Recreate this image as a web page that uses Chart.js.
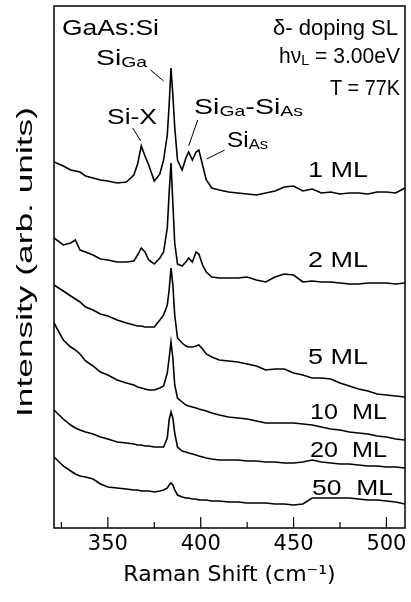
<!DOCTYPE html>
<html>
<head>
<meta charset="utf-8">
<script src="https://cdn.jsdelivr.net/npm/chart.js@4.4.1/dist/chart.umd.min.js"></script>
<style>
  html, body { margin: 0; padding: 0; background: #fff; }
</style>
</head>
<body>
<canvas id="chart" width="411" height="602"></canvas>
<script>
// Raman shift grid (cm-1), shared by every spectrum
const shift = [
  321, 326, 330, 332.5, 335, 338, 342, 346, 350, 355,
  360, 364, 366, 368, 370, 372, 375, 378, 380, 382,
  383, 384, 385, 386, 387.5, 390, 392, 393.5, 395.5, 397.5,
  399, 401, 403, 406, 410, 415, 420, 425, 430, 435,
  440, 445, 450, 455, 460, 465, 470, 475, 480, 485,
  490, 495, 500, 505, 510,
];

// intensities (arb. units, spectra already offset vertically)
const ml1 = [
  366, 362, 358, 357, 356, 352, 350, 348, 347, 345,
  346, 353, 364, 382, 372, 363, 347, 354, 368, 393,
  423, 460, 433, 401, 368, 358, 370, 376, 368, 376,
  378, 363, 348, 340, 338, 336, 335, 334, 333, 335,
  337, 341, 342, 337, 339, 335, 336, 334, 335, 335,
  334, 336, 336, 335, 340,
];
const ml2 = [
  290, 283, 285, 288, 278, 276, 273, 269, 268, 266,
  266, 267, 273, 280, 276, 268, 264, 270, 276, 300,
  335, 365, 325, 285, 264, 262, 266, 270, 266, 276,
  274, 263, 256, 251, 250, 250, 250, 251, 248, 246,
  251, 254, 253, 246, 247, 246, 246, 245, 244, 244,
  245, 245, 245, 244, 245,
];
const ml5 = [
  243, 237, 232, 229, 226, 221, 218, 214, 212, 208,
  205, 203, 202, 202, 201, 201, 201, 208, 213, 223,
  238, 260, 243, 213, 190, 185, 182, 181, 181, 182,
  183, 179, 174, 171, 168, 167, 166, 164, 162, 158,
  159, 159, 155, 153, 150, 150, 149, 145, 142, 139,
  137, 134, 133, 132, 131,
];
const ml10 = [
  205, 188, 181, 178, 174, 167, 162, 156, 153, 148,
  145, 143, 141, 140, 139, 138, 138, 140, 142, 155,
  170, 186, 170, 143, 130, 126, 123, 122, 121, 120,
  119, 118, 117, 115, 113, 111, 110, 109, 107, 105,
  105, 105, 105, 104, 103, 101, 99, 98, 96, 95,
  94, 92, 91, 89, 88,
];
const ml20 = [
  118, 109, 103, 100, 98, 96, 94, 91, 89, 86,
  85, 84, 83, 83, 82, 82, 81, 81, 81, 90,
  108, 116, 110, 95, 81, 77, 76, 75, 74, 73,
  72, 71, 70, 69, 68, 68, 68, 67, 67, 66,
  66, 65, 65, 66, 68, 66, 65, 64, 64, 63,
  62, 62, 61, 61, 60,
];
const ml50 = [
  71, 62, 57, 54, 52, 51, 49, 44, 41, 40,
  39, 38, 38, 37, 37, 37, 36, 37, 38, 40,
  43, 45, 43, 38, 33, 31, 30, 30, 29, 29,
  28, 28, 28, 27, 27, 26, 26, 25, 25, 25,
  24, 24, 23, 24, 30, 30, 30, 30, 30, 29,
  28, 28, 27, 26, 24,
];

const seriesNames = ['1 ML', '2 ML', '5 ML', '10  ML', '20  ML', '50  ML'];
const seriesValues = [ml1, ml2, ml5, ml10, ml20, ml50];
const xTickValues = [350, 400, 450, 500];
const xMinorTicks = [325, 375, 425, 475];
const yTitle = 'Intensity (arb. units)';

// text labels: "_{..}" marks a subscript; x/y = left edge and baseline in px, w = drawn width
const notes = [
  { text: 'GaAs:Si', x: 62, y: 35, w: 97 },
  { text: 'δ- doping SL', x: 273, y: 35, w: 125 },
  { text: 'hν_{L} = 3.00eV', x: 279, y: 63, w: 121 },
  { text: 'T = 77K', x: 330, y: 95, w: 70 },
  { text: 'Si_{Ga}', x: 96, y: 65, w: 51 },
  { text: 'Si-X', x: 107, y: 124, w: 50 },
  { text: 'Si_{Ga}-Si_{As}', x: 194, y: 114, w: 109 },
  { text: 'Si_{As}', x: 227, y: 147, w: 41 },
  { text: seriesNames[0], x: 308, y: 177, w: 60 },
  { text: seriesNames[1], x: 308, y: 267, w: 60 },
  { text: seriesNames[2], x: 308, y: 364, w: 60 },
  { text: seriesNames[3], x: 310, y: 419, w: 77 },
  { text: seriesNames[4], x: 310, y: 457, w: 77 },
  { text: seriesNames[5], x: 312, y: 495, w: 81 },
];

// leader lines from peak labels to peaks, in data units [x1, y1, x2, y2]
const leaders = [
  [373, 458, 380, 447],
  [363.4, 400, 367.7, 387],
  [398.4, 408, 393.5, 382],
  [412.9, 378, 403.2, 369],
];

const BIG = '22px "Liberation Sans", Arial, sans-serif';
const SMALL = '15px "Liberation Sans", Arial, sans-serif';

function drawNote(ctx, note) {
  const parts = note.text.split(/_\{([^}]*)\}/);
  let natural = 0;
  parts.forEach((t, i) => {
    ctx.font = i % 2 ? SMALL : BIG;
    natural += ctx.measureText(t).width;
  });
  ctx.save();
  ctx.translate(note.x, note.y);
  ctx.scale(note.w / natural, 1);
  let cx = 0;
  parts.forEach((t, i) => {
    ctx.font = i % 2 ? SMALL : BIG;
    ctx.fillText(t, cx, i % 2 ? 2 : 0);
    cx += ctx.measureText(t).width;
  });
  ctx.restore();
}

const framePlugin = {
  id: 'frame',
  afterDatasetsDraw(chart) {
    const { ctx, chartArea: a, scales: { x, y } } = chart;
    ctx.save();
    ctx.strokeStyle = '#000';
    ctx.fillStyle = '#000';
    ctx.lineWidth = 1.5;
    ctx.strokeRect(a.left, a.top, a.right - a.left, a.bottom - a.top);

    // inward tick marks
    ctx.lineWidth = 1.2;
    ctx.beginPath();
    xTickValues.forEach((v) => {
      const px = x.getPixelForValue(v);
      ctx.moveTo(px, a.bottom);
      ctx.lineTo(px, a.bottom - 11);
    });
    xMinorTicks.forEach((v) => {
      const px = x.getPixelForValue(v);
      ctx.moveTo(px, a.bottom);
      ctx.lineTo(px, a.bottom - 6);
    });
    ctx.stroke();

    ctx.lineWidth = 1;
    ctx.beginPath();
    leaders.forEach(([x1, y1, x2, y2]) => {
      ctx.moveTo(x.getPixelForValue(x1), y.getPixelForValue(y1));
      ctx.lineTo(x.getPixelForValue(x2), y.getPixelForValue(y2));
    });
    ctx.stroke();

    ctx.textAlign = 'left';
    ctx.textBaseline = 'alphabetic';
    notes.forEach((n) => drawNote(ctx, n));

    // y axis title, stretched along its length like the original
    ctx.save();
    ctx.font = '22px "Liberation Sans", Arial, sans-serif';
    ctx.textAlign = 'center';
    ctx.textBaseline = 'middle';
    ctx.translate(26, 262);
    ctx.rotate(-Math.PI / 2);
    ctx.scale(310 / ctx.measureText(yTitle).width, 1);
    ctx.fillText(yTitle, 0, 0);
    ctx.restore();

    ctx.restore();
  },
};

new Chart(document.getElementById('chart'), {
  type: 'line',
  data: {
    datasets: seriesValues.map((vals, k) => ({
      label: seriesNames[k],
      data: shift.map((s, i) => ({ x: s, y: vals[i] })),
      borderColor: '#000',
      borderWidth: 1.6,
      pointRadius: 0,
      tension: 0,
      fill: false,
    })),
  },
  options: {
    responsive: false,
    devicePixelRatio: 1,
    animation: false,
    layout: { padding: { top: 6, right: 6, left: 0, bottom: 0 } },
    plugins: { legend: { display: false }, tooltip: { enabled: false } },
    scales: {
      x: {
        type: 'linear',
        min: 321,
        max: 510,
        afterBuildTicks: (s) => { s.ticks = xTickValues.map((v) => ({ value: v })); },
        afterFit: (s) => { s.height = 74; },
        grid: { display: false, drawTicks: false },
        border: { display: false },
        ticks: {
          color: '#000',
          padding: 4,
          maxRotation: 0,
          font: { family: 'DejaVu Sans', size: 21 },
        },
        title: {
          display: true,
          text: 'Raman Shift (cm⁻¹)',
          color: '#000',
          font: { family: 'DejaVu Sans', size: 22 },
          padding: { top: 0, bottom: 14 },
        },
      },
      y: {
        min: 0,
        max: 522,
        afterFit: (s) => { s.width = 54; },
        grid: { display: false, drawTicks: false },
        border: { display: false },
        ticks: { display: false },
        title: { display: false, text: yTitle },
      },
    },
  },
  plugins: [framePlugin],
});
</script>
</body>
</html>
